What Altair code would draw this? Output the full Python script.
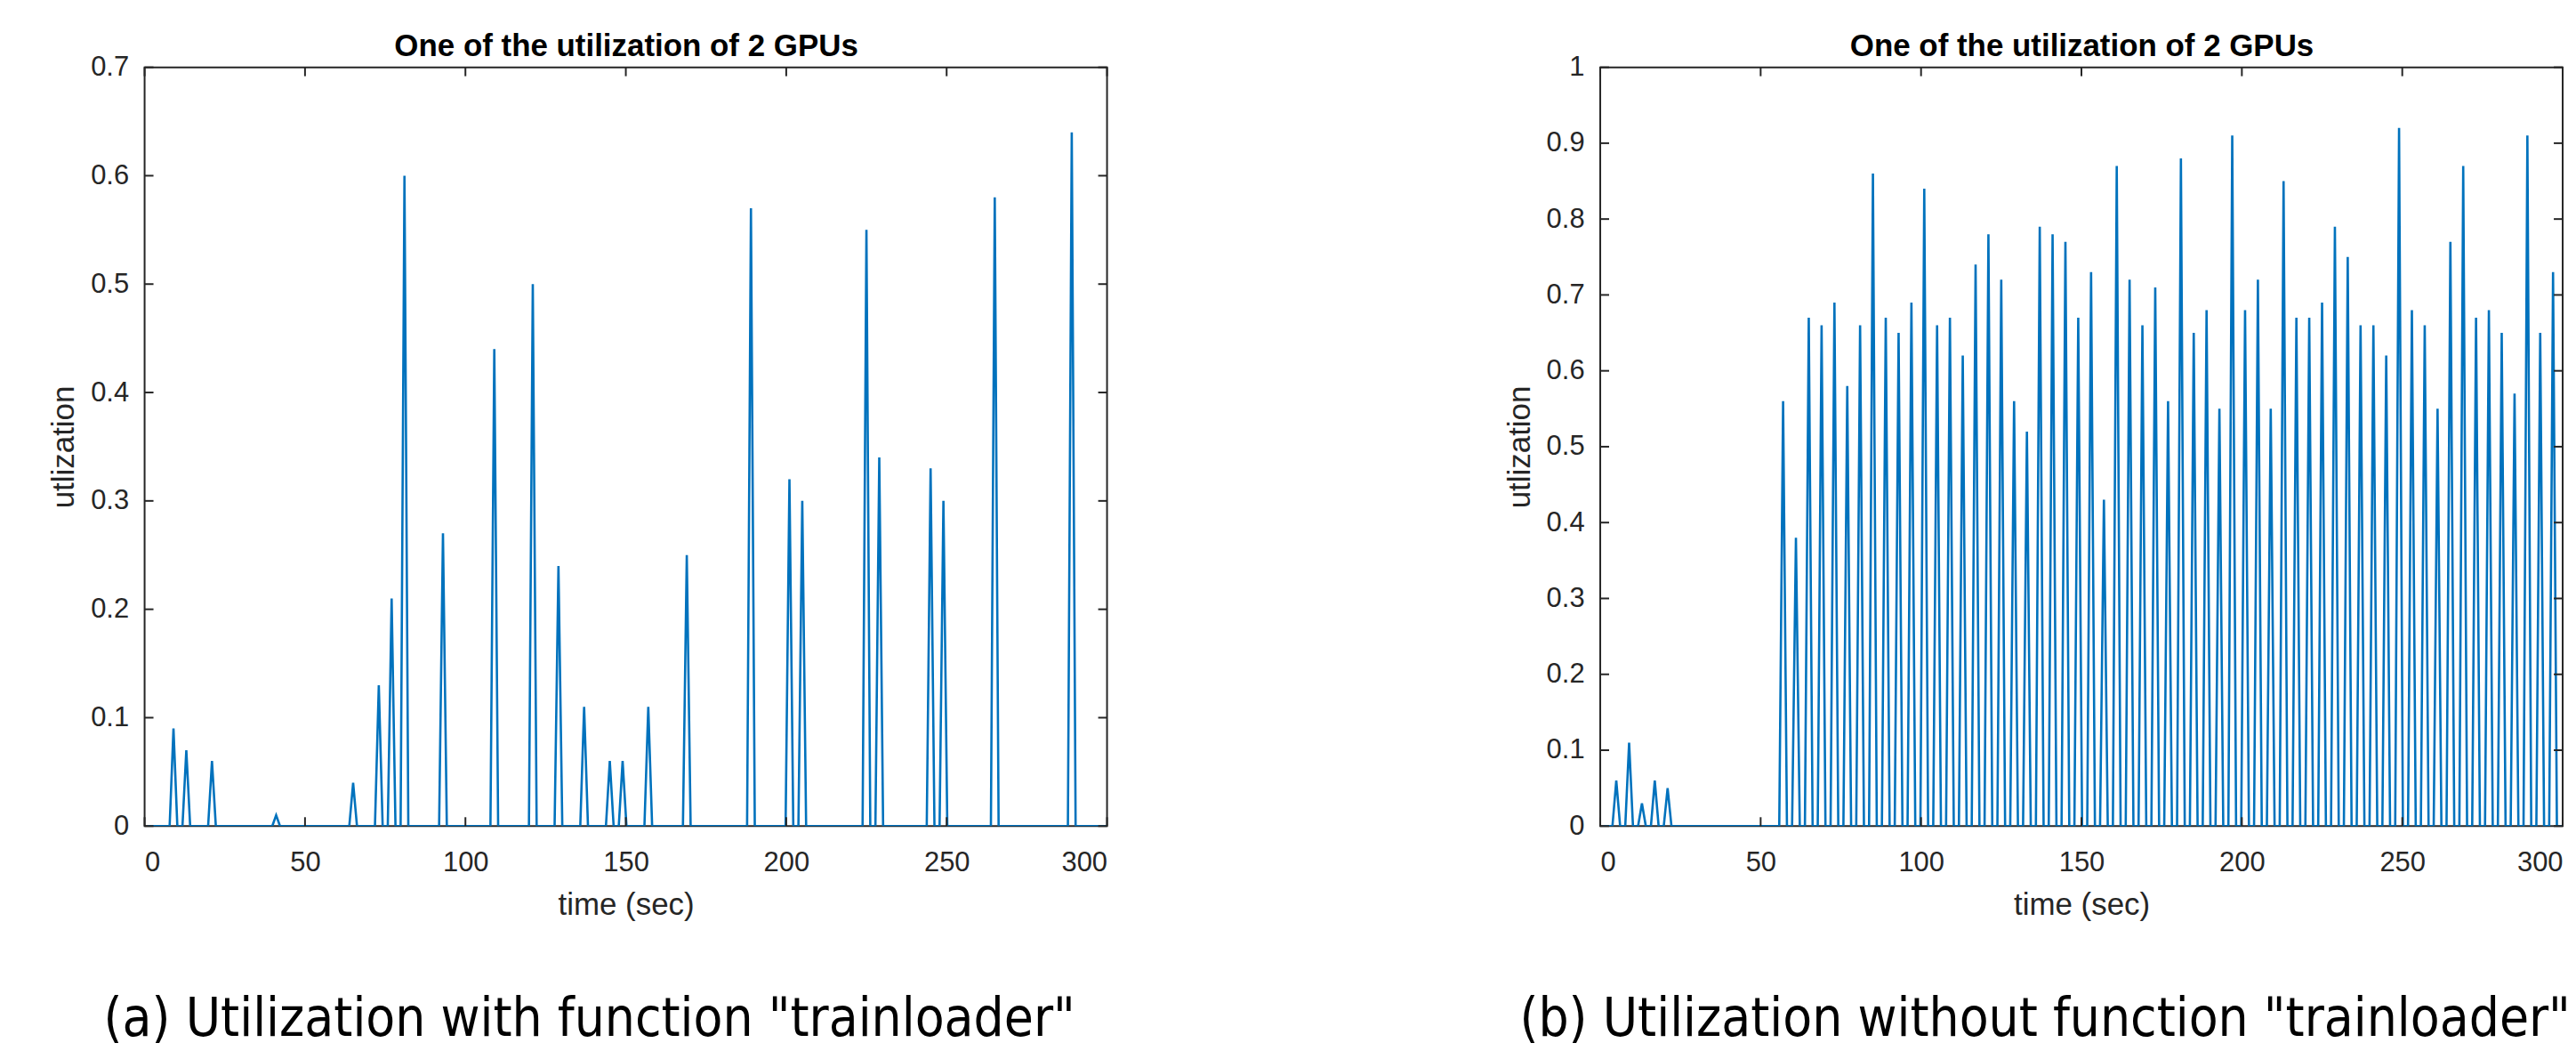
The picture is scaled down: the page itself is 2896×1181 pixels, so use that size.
import altair as alt
import pandas as pd

# ---------------- data ----------------
x_ticks = [0, 50, 100, 150, 200, 250, 300]
y_ticks_a = [0, 0.1, 0.2, 0.3, 0.4, 0.5, 0.6, 0.7]
y_ticks_b = [0, 0.1, 0.2, 0.3, 0.4, 0.5, 0.6, 0.7, 0.8, 0.9, 1]

peak_times_a = [9, 13, 21, 41, 65, 73, 77, 81, 93, 109, 121, 129, 137, 145,
                149, 157, 169, 189, 201, 205, 225, 229, 245, 249, 265, 289]
peak_values_a = [0.09, 0.07, 0.06, 0.01, 0.04, 0.13, 0.21, 0.60, 0.27, 0.44,
                 0.50, 0.24, 0.11, 0.06, 0.06, 0.11, 0.25, 0.57, 0.32, 0.30,
                 0.55, 0.34, 0.33, 0.30, 0.58, 0.64]

peak_times_b = [5, 9, 13, 17, 21,
                57, 61, 65, 69, 73, 77, 81, 85, 89, 93,
                97, 101, 105, 109, 113, 117, 121, 125, 129, 133,
                137, 141, 145, 149, 153, 157, 161, 165, 169, 173,
                177, 181, 185, 189, 193, 197, 201, 205, 209, 213,
                217, 221, 225, 229, 233, 237, 241, 245, 249, 253,
                257, 261, 265, 269, 273, 277, 281, 285, 289, 293, 297]
peak_values_b = [0.06, 0.11, 0.03, 0.06, 0.05,
                 0.56, 0.38, 0.67, 0.66, 0.69, 0.58, 0.66, 0.86, 0.67, 0.65,
                 0.69, 0.84, 0.66, 0.67, 0.62, 0.74, 0.78, 0.72, 0.56, 0.52,
                 0.79, 0.78, 0.77, 0.67, 0.73, 0.43, 0.87, 0.72, 0.66, 0.71,
                 0.56, 0.88, 0.65, 0.68, 0.55, 0.91, 0.68, 0.72, 0.55, 0.85,
                 0.67, 0.67, 0.69, 0.79, 0.75, 0.66, 0.66, 0.62, 0.92, 0.68,
                 0.66, 0.55, 0.77, 0.87, 0.67, 0.68, 0.65, 0.57, 0.91, 0.65, 0.73]

t_start, t_end = 1, 300
half_width = 1.2  # half base width of each spike (sec)

panel_title = "One of the utilization of 2 GPUs"
x_title = "time (sec)"
y_title = "utlization"
caption_a = '(a) Utilization with function "trainloader"'
caption_b = '(b) Utilization without function "trainloader"'


def series(times, values):
    rows = [(t_start, 0.0)]
    for t, v in zip(times, values):
        rows += [(t - half_width, 0.0), (t, v), (t + half_width, 0.0)]
    rows.append((t_end, 0.0))
    return pd.DataFrame(rows, columns=["time", "util"])


# ---------------- style ----------------
W, H = 1085, 855
AX = "#262626"
LINE = "#0072BD"
FONT = "Liberation Sans"
CAP_FONT = "DejaVu Sans Condensed, Liberation Sans Narrow, DejaVu Sans"
TICK = 10
LABEL_EXPR = "format(datum.value, '~g')"


def panel(df, y_ticks, ymax, caption):
    xs = alt.Scale(domain=[0, 300], nice=False, zero=False)
    ys = alt.Scale(domain=[0, ymax], nice=False, zero=False)
    xt = pd.DataFrame({"tick": x_ticks})
    yt = pd.DataFrame({"tick": y_ticks})

    line = alt.Chart(df).mark_line(color=LINE, strokeWidth=2.6, clip=True).encode(
        x=alt.X("time:Q", scale=xs, axis=alt.Axis(
            orient="bottom", values=x_ticks, labelExpr=LABEL_EXPR, title=x_title,
            ticks=False, tickSize=0, domain=False, grid=False,
            labelFont=FONT, labelFontSize=31, labelColor=AX, labelPadding=26,
            titleFont=FONT, titleFontSize=35, titleFontWeight="normal", titleColor=AX,
            titleX=W / 2, titleY=100, titleBaseline="alphabetic", titleAlign="center")),
        y=alt.Y("util:Q", scale=ys, axis=alt.Axis(
            orient="left", values=y_ticks, labelExpr=LABEL_EXPR, title=y_title,
            ticks=False, tickSize=0, domain=False, grid=False,
            labelFont=FONT, labelFontSize=31, labelColor=AX, labelPadding=18,
            titleFont=FONT, titleFontSize=35, titleFontWeight="normal", titleColor=AX,
            titleX=-80, titleY=H / 2, titleBaseline="alphabetic", titleAlign="center",
            titleAngle=270)),
    )

    top_ticks = alt.Chart(xt).mark_rule(color=AX, strokeWidth=2).encode(
        x=alt.X("tick:Q", scale=xs, axis=alt.Axis(
            orient="top", labels=False, ticks=False, domain=False, grid=False,
            title=panel_title, titleFont=FONT, titleFontSize=35, titleFontWeight="bold",
            titleColor="#000000", titleX=W / 2, titleY=-13, titleBaseline="alphabetic",
            titleAlign="center")),
        y=alt.value(0), y2=alt.value(TICK),
    )
    bottom_ticks = alt.Chart(xt).mark_rule(color=AX, strokeWidth=2).encode(
        x=alt.X("tick:Q", scale=xs, axis=None),
        y=alt.value(H), y2=alt.value(H - TICK),
    )
    left_ticks = alt.Chart(yt).mark_rule(color=AX, strokeWidth=2).encode(
        y=alt.Y("tick:Q", scale=ys, axis=None),
        x=alt.value(0), x2=alt.value(TICK),
    )
    right_ticks = alt.Chart(yt).mark_rule(color=AX, strokeWidth=2).encode(
        y=alt.Y("tick:Q", scale=ys, axis=None),
        x=alt.value(W), x2=alt.value(W - TICK),
    )

    return alt.layer(line, top_ticks, bottom_ticks, left_ticks, right_ticks).resolve_axis(
        x="independent", y="independent"
    ).properties(
        width=W, height=H,
        title=alt.TitleParams(
            text=caption, orient="bottom", anchor="middle", frame="group",
            font=CAP_FONT, fontSize=60, fontWeight="normal", color="#000000",
            offset=82, dx=-41),
    )


pa = panel(series(peak_times_a, peak_values_a), y_ticks_a, 0.7, caption_a)
pb = panel(series(peak_times_b, peak_values_b), y_ticks_b, 1, caption_b)

chart = alt.hconcat(pa, pb, spacing=556, bounds="flush").properties(
    autosize=alt.AutoSizeParams(type="none"),
    padding={"left": 155, "top": 65, "right": 2733, "bottom": 1108},
    background="white",
).configure_view(stroke=AX, strokeWidth=2)

chart.save("out.html", embed_options={"renderer": "svg", "actions": False})
